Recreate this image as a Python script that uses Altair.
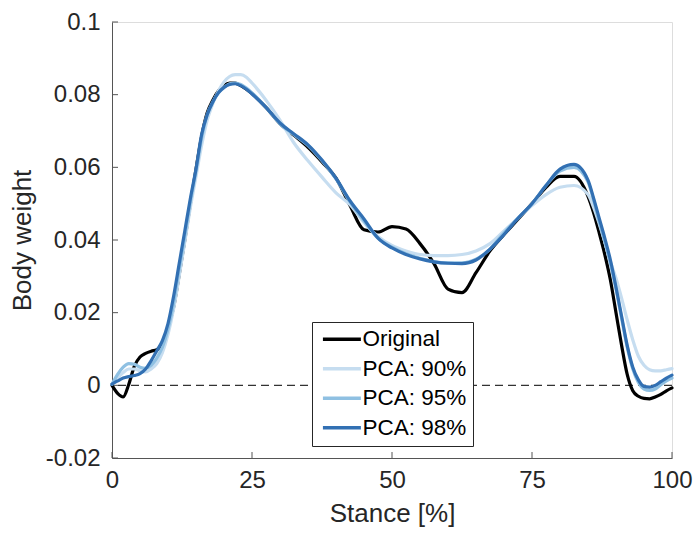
import altair as alt
import pandas as pd

# ---- data ----
stance = [0, 1, 2, 3, 4, 5, 6, 7, 8, 9, 10, 11, 12, 13, 14, 15, 16, 17, 18, 19, 20, 21, 22, 23, 24, 25,
          27.5, 30, 32.5, 35, 37.5, 40, 42.5, 45, 47.5, 50, 52.5, 55, 57.5, 60, 62.5, 65, 67.5, 70,
          72.5, 75, 77.5, 80, 82.5, 85,
          86, 87, 88, 89, 90, 91, 92, 93, 94, 95, 96, 97, 98, 99, 100]

original = [0, -0.0022, -0.0032, 0.0003, 0.0053, 0.0078, 0.0088, 0.0094, 0.0098, 0.0118, 0.0158, 0.0215,
            0.0305, 0.040, 0.050, 0.0595, 0.0685, 0.075, 0.0785, 0.081, 0.0825, 0.0832, 0.0832, 0.0825,
            0.0815, 0.0803,
            0.0765, 0.0720, 0.0688, 0.0655, 0.0615, 0.057, 0.0495, 0.0428, 0.0422, 0.0437, 0.043, 0.039,
            0.0335, 0.0265, 0.0255, 0.031, 0.037, 0.0415, 0.0457, 0.050, 0.0545, 0.0575, 0.0575, 0.052,
            0.0475, 0.042, 0.036, 0.029, 0.020, 0.011, 0.003, -0.0015, -0.003, -0.0036, -0.0037, -0.0032,
            -0.0025, -0.0015, -0.0007]

pca90 = [0.0003, 0.002, 0.0035, 0.0045, 0.0045, 0.004, 0.0037, 0.0045, 0.006, 0.009, 0.014, 0.021,
         0.030, 0.0395, 0.049, 0.0575, 0.066, 0.073, 0.0775, 0.081, 0.0835, 0.085, 0.0855, 0.0855,
         0.0848, 0.0832,
         0.0785, 0.073, 0.0667, 0.0618, 0.0573, 0.053, 0.0497, 0.0448, 0.041, 0.0385, 0.037, 0.036,
         0.0357, 0.0357, 0.036, 0.037, 0.039, 0.0425, 0.046, 0.0495, 0.0525, 0.0545, 0.055, 0.0525,
         0.049, 0.0445, 0.0395, 0.034, 0.0295, 0.024, 0.018, 0.0125, 0.008, 0.0055, 0.0043, 0.004,
         0.004, 0.0043, 0.0046]

pca95 = [0.0003, 0.003, 0.005, 0.006, 0.0058, 0.005, 0.0047, 0.0055, 0.0075, 0.0105, 0.0155, 0.0225,
         0.032, 0.041, 0.0505, 0.059, 0.068, 0.0745, 0.078, 0.0805, 0.082, 0.083, 0.0832, 0.0828,
         0.0818, 0.0805,
         0.0765, 0.072, 0.069, 0.066, 0.0618, 0.0568, 0.0505, 0.0452, 0.0405, 0.038, 0.0362, 0.035,
         0.034, 0.0337, 0.0337, 0.0347, 0.0375, 0.042, 0.046, 0.050, 0.055, 0.059, 0.060, 0.056,
         0.051, 0.045, 0.0395, 0.0335, 0.0265, 0.0185, 0.0105, 0.0045, 0.0008, -0.001, -0.0014, -0.001,
         0.0002, 0.0012, 0.002]

pca98 = [0.0003, 0.0012, 0.002, 0.0024, 0.0027, 0.0032, 0.0045, 0.0068, 0.0095, 0.0123, 0.017, 0.0245,
         0.0335, 0.0425, 0.0515, 0.0595, 0.069, 0.0745, 0.078, 0.0805, 0.082, 0.0828, 0.083, 0.0825,
         0.0815, 0.0802,
         0.0765, 0.0722, 0.0692, 0.0662, 0.062, 0.057, 0.0508, 0.0458, 0.0405, 0.0378, 0.036, 0.0348,
         0.034, 0.0336, 0.0335, 0.0345, 0.0375, 0.0415, 0.046, 0.050, 0.055, 0.0595, 0.0608, 0.0565,
         0.0515, 0.046, 0.0405, 0.0345, 0.027, 0.019, 0.011, 0.005, 0.0015, -0.0003, -0.0005, 0.0,
         0.001, 0.002, 0.0028]

series_names = ["Original", "PCA: 90%", "PCA: 95%", "PCA: 98%"]
series_values = [original, pca90, pca95, pca98]
series_colors = ["#000000", "#c6ddf0", "#8fc0e2", "#3270b3"]

x_ticks = [0, 25, 50, 75, 100]
y_ticks = [-0.02, 0, 0.02, 0.04, 0.06, 0.08, 0.1]

rows = []
for name, vals in zip(series_names, series_values):
    for xv, yv in zip(stance, vals):
        rows.append({"stance": xv, "bw": yv, "series": name})
df = pd.DataFrame(rows)

W, H = 560, 436
FONT = "Liberation Sans"
TXT = "#262626"
AX = "#555555"

xscale = alt.Scale(domain=[0, 100], nice=False, zero=False)
yscale = alt.Scale(domain=[-0.02, 0.1], nice=False, zero=False)

xaxis = alt.Axis(values=x_ticks, ticks=False, grid=False, domainColor=AX, domainWidth=1,
                 labelFont=FONT, labelFontSize=24, labelColor=TXT, labelPadding=10,
                 labelFlush=False, title="Stance [%]", titleFont=FONT, titleFontSize=26,
                 titleFontWeight="normal", titleColor=TXT, titlePadding=8)
yaxis = alt.Axis(values=y_ticks, ticks=False, grid=False, domainColor=AX, domainWidth=1,
                 labelFont=FONT, labelFontSize=24, labelColor=TXT, labelPadding=12,
                 labelFlush=False,
                 labelExpr="datum.value < 0 ? '-' + format(-datum.value, '~g') : format(datum.value, '~g')",
                 title="Body weight", titleFont=FONT, titleFontSize=26, titleFontWeight="normal",
                 titleColor=TXT, titlePadding=10)

# legend line: a custom horizontal path starting at the entry origin
color = alt.Color("series:N",
                  scale=alt.Scale(domain=series_names, range=series_colors),
                  legend=alt.Legend(title=None, orient="none", legendX=200, legendY=300,
                                    direction="vertical", symbolType="M-1,0H5", symbolSize=160,
                                    symbolStrokeWidth=3.5, labelFont=FONT, labelFontSize=22.5,
                                    labelColor="#000000", labelOffset=22, rowPadding=6.5,
                                    padding=6, fillColor="white", strokeColor=TXT,
                                    cornerRadius=0))

zero = alt.Chart(pd.DataFrame({"bw": [0]})).mark_rule(
    color="#333333", strokeWidth=1.1, strokeDash=[8, 5]
).encode(y=alt.Y("bw:Q", scale=yscale, axis=yaxis))

ytick = alt.Chart(pd.DataFrame({"v": y_ticks})).mark_rule(color=AX, strokeWidth=1).encode(
    y=alt.Y("v:Q", scale=yscale, axis=yaxis), x=alt.value(0), x2=alt.value(6))
xtick = alt.Chart(pd.DataFrame({"v": x_ticks})).mark_rule(color=AX, strokeWidth=1).encode(
    x=alt.X("v:Q", scale=xscale, axis=xaxis), y=alt.value(H), y2=alt.value(H - 6))

layers = [zero, ytick, xtick]
for name in series_names:
    layers.append(
        alt.Chart(df).transform_filter(alt.datum.series == name).mark_line(
            interpolate="monotone", strokeWidth=3.2, strokeCap="round"
        ).encode(
            x=alt.X("stance:Q", scale=xscale, axis=xaxis),
            y=alt.Y("bw:Q", scale=yscale, axis=yaxis),
            color=color,
        )
    )

chart = alt.layer(*layers).properties(
    width=W, height=H,
    padding={"left": 112, "top": 22, "right": 25, "bottom": 75},
    autosize=alt.AutoSizeParams(type="none"),
).configure_view(stroke=None).configure(background="white")

chart.save("out.html", embed_options={"renderer": "svg", "actions": False})
